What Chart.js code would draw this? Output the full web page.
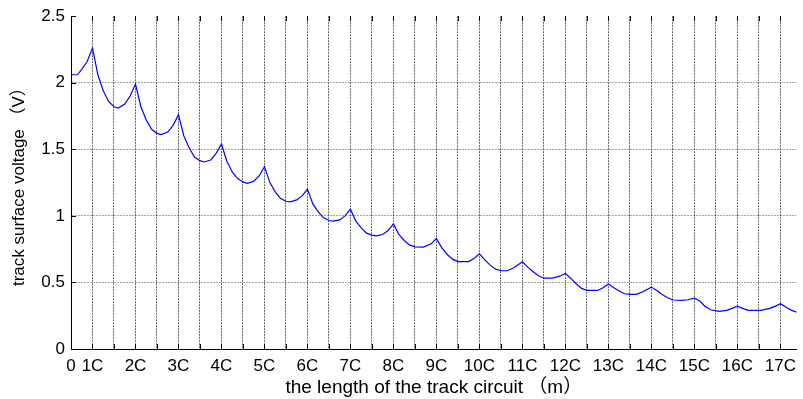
<!DOCTYPE html>
<html>
<head>
<meta charset="utf-8">
<script src="https://cdn.jsdelivr.net/npm/chart.js@4/dist/chart.umd.min.js"></script>
<style>
  body { margin: 0; background: #fff; }
  canvas { display: block; }
</style>
</head>
<body>
<canvas id="voltage_chart" width="803" height="399"></canvas>
<script>
// position along the circuit, one unit = half a compensation-capacitor spacing
const positions = [
    0, 0.3, 0.5, 0.75, 1,
    1.25, 1.5, 1.75, 2, 2.2, 2.5, 2.75, 3,
    3.25, 3.5, 3.75, 4, 4.2, 4.5, 4.75, 5,
    5.25, 5.5, 5.75, 6, 6.2, 6.5, 6.75, 7,
    7.25, 7.5, 7.75, 8, 8.2, 8.5, 8.75, 9,
    9.25, 9.5, 9.75, 10, 10.2, 10.5, 10.75, 11,
    11.25, 11.5, 11.75, 12, 12.2, 12.5, 12.75, 13,
    13.25, 13.5, 13.75, 14, 14.2, 14.5, 14.75, 15,
    15.25, 15.5, 15.75, 16, 16.4, 16.75, 17,
    17.25, 17.5, 17.75, 18, 18.5, 18.75, 19,
    19.25, 19.5, 19.75, 20, 20.3, 20.6, 21,
    21.25, 21.5, 21.75, 22, 22.4, 22.7, 23,
    23.25, 23.5, 23.75, 24, 24.5, 24.75, 25,
    25.25, 25.5, 25.75, 26, 26.3, 26.6, 27,
    27.25, 27.5, 27.75, 28, 28.4, 28.7, 29,
    29.25, 29.5, 29.75, 30.15, 30.5, 30.75, 31,
    31.25, 31.5, 32.1, 32.5, 32.75, 33,
    33.25, 33.5, 33.75
]

const voltage = [
    2.06, 2.06, 2.10, 2.16, 2.26,
    2.06, 1.94, 1.86, 1.82, 1.81, 1.84, 1.90, 1.99,
    1.82, 1.72, 1.65, 1.62, 1.61, 1.63, 1.68, 1.76,
    1.60, 1.51, 1.44, 1.415, 1.405, 1.42, 1.47, 1.54,
    1.41, 1.33, 1.28, 1.255, 1.245, 1.26, 1.30, 1.37,
    1.25, 1.18, 1.13, 1.11, 1.105, 1.12, 1.15, 1.20,
    1.09, 1.03, 0.985, 0.965, 0.96, 0.97, 1.00, 1.05,
    0.96, 0.91, 0.87, 0.855, 0.85, 0.86, 0.89, 0.94,
    0.86, 0.815, 0.78, 0.767, 0.765, 0.79, 0.83,
    0.76, 0.71, 0.675, 0.657, 0.657, 0.68, 0.715,
    0.67, 0.63, 0.60, 0.588, 0.588, 0.61, 0.655,
    0.615, 0.58, 0.55, 0.532, 0.532, 0.545, 0.568,
    0.53, 0.49, 0.455, 0.44, 0.44, 0.46, 0.488,
    0.46, 0.435, 0.415, 0.41, 0.41, 0.43, 0.465,
    0.44, 0.41, 0.385, 0.368, 0.365, 0.37, 0.382,
    0.36, 0.32, 0.295, 0.283, 0.29, 0.305, 0.322,
    0.305, 0.29, 0.29, 0.305, 0.32, 0.34,
    0.315, 0.292, 0.277
]

const xTickValues = [
    0, 1, 2, 3, 4, 5, 6, 7, 8, 9, 10, 11, 12, 13, 14, 15, 16,
    17, 18, 19, 20, 21, 22, 23, 24, 25, 26, 27, 28, 29, 30, 31, 32, 33
]
const xTickLabels = [
    '0', '1C', '', '2C', '', '3C', '', '4C', '', '5C', '', '6C', '', '7C', '', '8C', '',
    '9C', '', '10C', '', '11C', '', '12C', '', '13C', '', '14C', '', '15C', '', '16C', '', '17C'
]

const fontFamily = '"Liberation Sans", Arial, "Noto Sans CJK SC", sans-serif'

// MATLAB style ticks that point into the plot
const innerTicks = {
    id: 'innerTicks',
    afterDraw(chart) {
        const {ctx, chartArea, scales} = chart
        ctx.save()
        ctx.strokeStyle = '#000'
        ctx.lineWidth = 1
        ctx.beginPath()
        scales.x.ticks.forEach(t => {
            const px = Math.round(scales.x.getPixelForValue(t.value)) + 0.5
            ctx.moveTo(px, chartArea.bottom)
            ctx.lineTo(px, chartArea.bottom - 5)
            ctx.moveTo(px, chartArea.top)
            ctx.lineTo(px, chartArea.top + 5)
        })
        scales.y.ticks.forEach(t => {
            const py = Math.round(scales.y.getPixelForValue(t.value)) + 0.5
            ctx.moveTo(chartArea.left, py)
            ctx.lineTo(chartArea.left + 5, py)
        })
        ctx.stroke()
        ctx.restore()
    }
}

const data = {
    datasets: [{
        label: 'track surface voltage',
        data: positions.map((x, i) => ({x: x, y: voltage[i]})),
        borderColor: '#0000ff',
        borderWidth: 1.2,
        pointRadius: 0,
        fill: false,
        tension: 0
    }]
}

const config = {
    type: 'line',
    data: data,
    options: {
        responsive: false,
        animation: false,
        layout: {
            padding: {top: 13, right: 0, bottom: 0, left: 0}
        },
        plugins: {
            legend: {display: false},
            tooltip: {enabled: false}
        },
        scales: {
            x: {
                type: 'linear',
                min: 0,
                max: 33.75,
                afterBuildTicks: scale => {
                    scale.ticks = xTickValues.map(v => ({value: v}))
                },
                afterFit: scale => {
                    scale.height = 50
                },
                ticks: {
                    autoSkip: false,
                    maxRotation: 0,
                    padding: 7,
                    color: '#000',
                    font: {family: fontFamily, size: 17},
                    callback: (value, index) => xTickLabels[index]
                },
                grid: {
                    color: 'rgba(0,0,0,0.6)',
                    lineWidth: 1,
                    drawTicks: false
                },
                border: {
                    display: true,
                    color: '#000',
                    width: 1,
                    dash: [2, 1]
                },
                title: {
                    display: true,
                    text: 'the length of the track circuit （m）',
                    color: '#000',
                    font: {family: fontFamily, size: 19},
                    padding: {top: 0, bottom: 0}
                }
            },
            y: {
                min: 0,
                max: 2.5,
                afterFit: scale => {
                    scale.width = 71
                },
                ticks: {
                    stepSize: 0.5,
                    padding: 6,
                    color: '#000',
                    font: {family: fontFamily, size: 17},
                    callback: value => String(value)
                },
                grid: {
                    color: ctx => (ctx.tick && ctx.tick.value === 2.5) ? 'rgba(0,0,0,0)' : 'rgba(0,0,0,0.35)',
                    lineWidth: 1,
                    drawTicks: false
                },
                border: {
                    display: true,
                    color: '#000',
                    width: 1,
                    dash: [2, 1]
                },
                title: {
                    display: true,
                    text: 'track surface voltage （V）',
                    color: '#000',
                    font: {family: fontFamily, size: 17},
                    padding: {top: 9, bottom: 0}
                }
            }
        }
    },
    plugins: [innerTicks]
}

const ctx = document.getElementById('voltage_chart').getContext('2d')
const voltageChart = new Chart(ctx, config)
</script>
</body>
</html>
